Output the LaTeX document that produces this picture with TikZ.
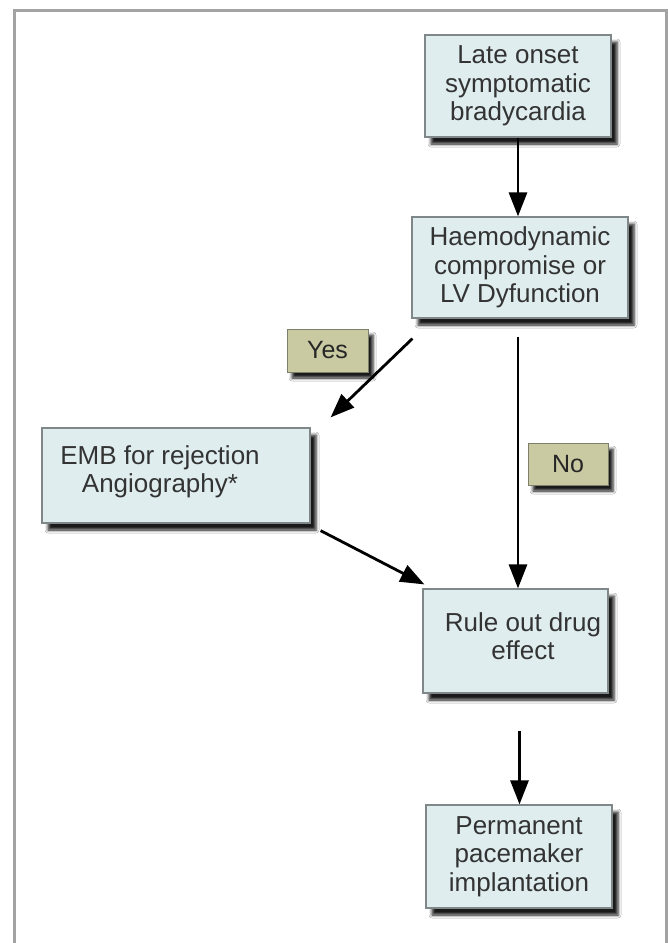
\documentclass[tikz,border=0pt]{standalone}
\usepackage{fontspec}
\setmainfont{Liberation Sans}
\usetikzlibrary{arrows.meta,calc,shadows.blur}
\definecolor{boxfill}{HTML}{DFEDEF}
\definecolor{boxborder}{HTML}{808789}
\definecolor{lblfill}{HTML}{C9CAA2}
\definecolor{lblborder}{HTML}{7E7F6A}
\definecolor{textgray}{HTML}{333333}
\definecolor{framegray}{HTML}{A3A3A3}
\tikzset{
  mybox/.style={draw=boxborder, line width=1.2pt, fill=boxfill, inner sep=0pt,
    blur shadow={shadow xshift=6pt, shadow yshift=-7pt, shadow blur radius=3pt, shadow opacity=90}},
  boxtext/.style={align=center, inner sep=0pt, text=textgray, font=\fontsize{26}{28.5}\selectfont},
  mylabel/.style={draw=lblborder, line width=1pt, fill=lblfill, inner sep=0pt, text=black!85,
    font=\fontsize{25}{28}\selectfont,
    blur shadow={shadow xshift=5pt, shadow yshift=-6pt, shadow blur radius=3pt, shadow opacity=90}},
  myarrow/.style={draw=black, line width=2.8pt, -{Triangle[length=24pt,width=18pt]}}
}
\begin{document}
\begin{tikzpicture}[x=1pt,y=-1pt]
\useasboundingbox (0,0) rectangle (668,943);
\fill[white] (0,0) rectangle (668,943);
\draw[framegray, line width=3pt] (14,943) -- (14,10) -- (666,10) -- (666,943);

% boxes
\node[mybox, minimum width=186pt, minimum height=102pt, boxtext] (late) at (518,86)
  {Late onset\\symptomatic\\bradycardia};
\node[mybox, minimum width=216pt, minimum height=101pt, boxtext] (haem) at (520,267.5)
  {Haemodynamic\\compromise or\\LV Dyfunction};
\node[mybox, minimum width=268pt, minimum height=95pt] (emb) at (176,475.5) {};
\node[boxtext] (embtext) at (160,472) {EMB for rejection\\Angiography*};
\node[mybox, minimum width=185pt, minimum height=104pt] (rule) at (515.5,641) {};
\node[boxtext] (ruletext) at (523,636) {Rule out drug\\effect};
\node[mybox, minimum width=186pt, minimum height=103pt, boxtext] (perm) at (519,856.5)
  {Permanent\\pacemaker\\implantation};

% labels
\node[mylabel, minimum width=81pt, minimum height=43pt] (yes) at (327.5,350.5) {Yes};
\node[mylabel, minimum width=80pt, minimum height=42pt] (no) at (568,464) {No};

% connectors
\draw[myarrow] (late.south) -- (late.south |- haem.north);
\draw[myarrow] ($(haem.south west)+(1,20)$) -- ($(emb.north east)+(20,-10)$);
\coordinate (nstart) at ($(haem.south)+(-2,18)$);
\draw[myarrow] (nstart) -- (nstart |- rule.north);
\draw[myarrow] ($(emb.south east)+(10,7)$) -- ($(rule.north west)+(2,-4)$);
\coordinate (pstart) at ($(rule.south)+(4,37)$);
\draw[myarrow] (pstart) -- (pstart |- perm.north);
\end{tikzpicture}
\end{document}
